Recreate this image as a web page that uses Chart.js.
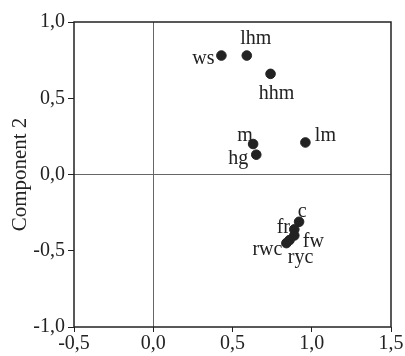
<!DOCTYPE html>
<html lang="en">
<head>
  <meta charset="UTF-8">
  <title>Component plot</title>
  <style type="text/css">
    body, html {
      margin: 0;
      padding: 0;
      background-color: #fff;
    }
    .chart-box {
      width: 405px;
      height: 356px;
    }
  </style>
  <script src="https://cdn.jsdelivr.net/npm/chart.js"></script>
</head>
<body>
  <div class="chart-box">
    <canvas id="chart"></canvas>
  </div>

  <script>
    // data
    const names = ["ws", "lhm", "hhm", "m", "hg", "lm", "c", "fr", "fw", "rwc", "ryc"];
    const comp1 = [0.43, 0.59, 0.74, 0.63, 0.65, 0.96, 0.92, 0.89, 0.89, 0.84, 0.86];
    const comp2 = [0.78, 0.78, 0.66, 0.20, 0.13, 0.21, -0.31, -0.36, -0.40, -0.45, -0.43];
    const xTicks = [-0.5, 0.0, 0.5, 1.0, 1.5];
    const yTicks = [-1.0, -0.5, 0.0, 0.5, 1.0];

    // where each label sits relative to its dot (px)
    const labelOffset = {
      ws: [-18, 3], lhm: [9, -17], hhm: [6, 20], m: [-8, -8], hg: [-18, 4],
      lm: [20, -7], c: [3, -10], fr: [-11, -2], fw: [19, 6], rwc: [-19, 7], ryc: [11, 18]
    };

    const ink = '#222';
    const serif = '"Liberation Serif", "Times New Roman", serif';

    const fmt = v => v.toFixed(1).replace('.', ',');

    const points = names.map((n, i) => ({ x: comp1[i], y: comp2[i] }));

    const framePlugin = {
      id: 'frame',
      afterDraw(chart) {
        const { ctx, chartArea: a } = chart;
        ctx.save();
        ctx.strokeStyle = ink;
        ctx.lineWidth = 1.5;
        ctx.strokeRect(a.left, a.top, a.right - a.left, a.bottom - a.top);
        ctx.restore();
      }
    };

    const labelPlugin = {
      id: 'pointLabels',
      afterDatasetsDraw(chart) {
        const ctx = chart.ctx;
        const meta = chart.getDatasetMeta(0);
        ctx.save();
        ctx.fillStyle = ink;
        ctx.font = '20px ' + serif;
        ctx.textAlign = 'center';
        ctx.textBaseline = 'middle';
        meta.data.forEach((pt, i) => {
          const off = labelOffset[names[i]] || [0, 0];
          ctx.fillText(names[i], pt.x + off[0], pt.y + off[1]);
        });
        ctx.restore();
      }
    };

    const zeroLine = c => (c.tick && c.tick.value === 0) ? '#666' : 'rgba(0,0,0,0)';

    new Chart(document.getElementById('chart'), {
      type: 'scatter',
      data: {
        datasets: [{
          data: points,
          backgroundColor: ink,
          borderColor: ink,
          pointRadius: 4.8,
          pointHoverRadius: 4.8
        }]
      },
      options: {
        responsive: true,
        maintainAspectRatio: false,
        animation: false,
        layout: { padding: { top: 22, right: 14, left: 0, bottom: 0 } },
        plugins: {
          legend: { display: false },
          tooltip: { enabled: false }
        },
        scales: {
          x: {
            min: -0.5,
            max: 1.5,
            afterBuildTicks: s => { s.ticks = xTicks.map(v => ({ value: v })); },
            afterFit: s => { s.height = 29; },
            border: { display: false },
            grid: { color: zeroLine, tickColor: ink, tickLength: 5, lineWidth: 1 },
            ticks: {
              color: ink,
              padding: 0,
              maxRotation: 0,
              font: { family: serif, size: 20 },
              callback: v => fmt(v)
            }
          },
          y: {
            min: -1.0,
            max: 1.0,
            afterBuildTicks: s => { s.ticks = yTicks.map(v => ({ value: v })); },
            afterFit: s => { s.width = 74; },
            border: { display: false },
            grid: { color: zeroLine, tickColor: ink, tickLength: 6, lineWidth: 1 },
            title: {
              display: true,
              text: 'Component 2',
              color: ink,
              padding: { top: 8, bottom: 0 },
              font: { family: serif, size: 21 }
            },
            ticks: {
              color: ink,
              padding: 3,
              font: { family: serif, size: 20 },
              callback: v => fmt(v)
            }
          }
        }
      },
      plugins: [framePlugin, labelPlugin]
    });
  </script>
</body>
</html>
